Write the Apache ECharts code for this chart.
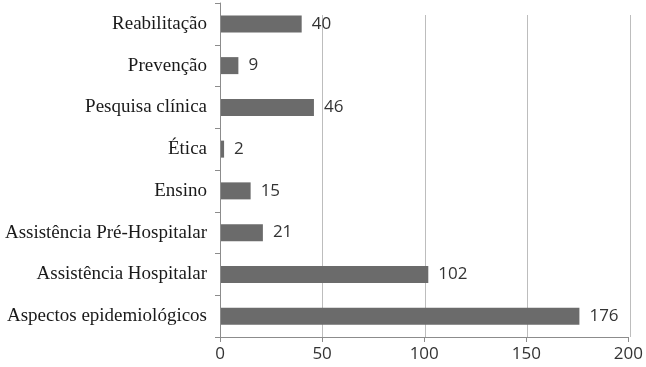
<!DOCTYPE html>
<html>
<head>
<meta charset="utf-8">
<script src="https://cdn.jsdelivr.net/npm/echarts@6/dist/echarts.min.js"></script>
<style>
  html, body { margin: 0; padding: 0; background: #fff; }
  #chart { width: 646px; height: 367px; }
</style>
</head>
<body>
<div id="chart"></div>
<script>
// categories from bottom to top
var categories = ['Aspectos epidemiológicos', 'Assistência Hospitalar', 'Assistência Pré-Hospitalar',
                  'Ensino', 'Ética', 'Pesquisa clínica', 'Prevenção', 'Reabilitação']
var values = [176, 102, 21, 15, 2, 46, 9, 40]
var xTicks = [0, 50, 100, 150, 200]

var chart = echarts.init(document.getElementById('chart'))
var option = {
    animation: false,
    grid: [
        { left: 220, right: 16, top: 3, bottom: 30 },
        { left: 220, right: 16, top: 15, bottom: 30 }
    ],
    xAxis: [
        {
            type: 'value', gridIndex: 0, min: xTicks[0], max: xTicks[xTicks.length - 1], interval: 50,
            axisLine: { show: true, lineStyle: { color: '#8c8c8c' } },
            axisTick: { show: true, length: 5, lineStyle: { color: '#8c8c8c' } },
            axisLabel: { color: '#333', fontFamily: 'Open Sans', fontSize: 17, margin: 9 },
            splitLine: { show: false }
        },
        {
            type: 'value', gridIndex: 1, min: xTicks[0], max: xTicks[xTicks.length - 1], interval: 50,
            axisLine: { show: false }, axisTick: { show: false }, axisLabel: { show: false },
            splitLine: { show: true, lineStyle: { color: '#bdbdbd', width: 1 } }
        }
    ],
    yAxis: [
        {
            type: 'category', gridIndex: 0, data: categories,
            axisLine: { show: true, lineStyle: { color: '#8c8c8c' } },
            axisTick: { show: true, length: 5, lineStyle: { color: '#8c8c8c' } },
            axisLabel: { color: '#1a1a1a', fontFamily: 'Liberation Serif', fontSize: 19, margin: 13 },
            z: 5
        },
        {
            type: 'category', gridIndex: 1, data: categories, show: false
        }
    ],
    series: [{
        type: 'bar', xAxisIndex: 0, yAxisIndex: 0,
        data: values, barWidth: 17,
        itemStyle: { color: '#6b6b6b' },
        label: {
            show: true, position: 'right', distance: 10,
            color: '#333', fontFamily: 'Open Sans', fontSize: 17
        },
        z: 3
    }]
}
chart.setOption(option)
</script>
</body>
</html>
